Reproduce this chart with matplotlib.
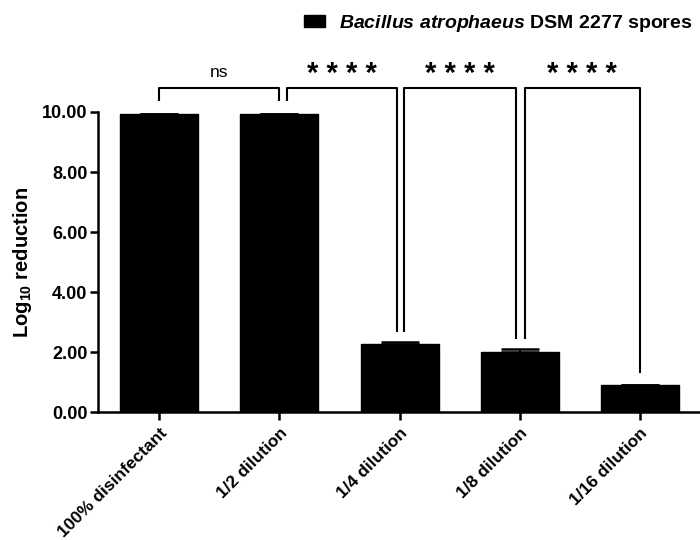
import matplotlib
matplotlib.use("Agg")
import matplotlib.pyplot as plt

categories = ["100% disinfectant", "1/2 dilution", "1/4 dilution", "1/8 dilution", "1/16 dilution"]
values = [9.93, 9.93, 2.27, 1.99, 0.89]
errors = [0.0, 0.0, 0.05, 0.10, 0.0]
yticks = [0, 2, 4, 6, 8, 10]
# brackets: (left x, right x, left leg bottom, right leg bottom, label)
brackets = [(0.0, 1.0, 10.4, 10.4, "ns"), (1.06, 1.98, 10.4, 2.7, "****"),
            (2.04, 2.97, 2.7, 2.47, "****"), (3.04, 4.0, 2.47, 1.33, "****")]
bracket_top = 10.8
legend_label = r"$\mathbfit{Bacillus\ atrophaeus}$ DSM 2277 spores"

plt.rcParams['font.family'] = ['Liberation Sans', 'DejaVu Sans']
plt.rcParams['mathtext.fontset'] = 'custom'
plt.rcParams['mathtext.rm'] = 'Liberation Sans'
plt.rcParams['mathtext.bf'] = 'Liberation Sans:bold'
plt.rcParams['mathtext.it'] = 'Liberation Sans:italic'
plt.rcParams['mathtext.bfit'] = 'Liberation Sans:italic:bold'

fig = plt.figure(figsize=(7, 5.4), dpi=100)
ax = fig.add_axes([0.14, 0.237, 0.86, 0.5556])
x = list(range(len(categories)))
ax.bar(x, values, width=0.65, color='black', edgecolor='black')
ax.errorbar(x, values, yerr=[[0]*len(errors), errors], fmt='none', ecolor='black',
            capsize=14, elinewidth=1.5, capthick=1.8)

ax.set_xlim(-0.51, 4.5)
ax.set_ylim(0, 10)
ax.set_yticks(yticks)
ax.set_yticklabels([f"{v:.2f}" for v in yticks], fontsize=13, fontweight='bold')
ax.set_xticks(x)
ax.set_xticklabels(categories, rotation=45, ha='right', rotation_mode='anchor', fontsize=12.5, fontweight='bold')
for s in ['top', 'right']:
    ax.spines[s].set_visible(False)
for s in ['left', 'bottom']:
    ax.spines[s].set_linewidth(1.8)
ax.tick_params(axis='both', width=1.8, length=6, direction='out')
ax.tick_params(axis='y', pad=1.5)
ax.set_ylabel(r"Log$_{\mathbf{10}}$ reduction", fontsize=14.5, fontweight='bold', labelpad=6)

for (xl, xr, lb, rb, lab) in brackets:
    ax.plot([xl, xl, xr, xr], [lb, bracket_top, bracket_top, rb], color='black', lw=1.5, clip_on=False)
    xm = (xl + xr) / 2
    if lab == "ns":
        ax.text(xm, bracket_top + 0.25, lab, ha='center', va='bottom', fontsize=12.5)
    else:
        ax.text(xm, bracket_top + 0.0, " ".join(lab), ha='center', va='bottom', fontsize=21, fontweight='bold')

handles = [plt.Rectangle((0, 0), 1, 1, color='black')]
fig.legend(handles, [legend_label], loc='upper right', bbox_to_anchor=(1.0, 0.99), frameon=False,
           prop={'size': 14, 'weight': 'bold'}, handlelength=1.1, handleheight=0.6, handletextpad=0.7, borderaxespad=0)

fig.savefig("out.png", dpi=100)
